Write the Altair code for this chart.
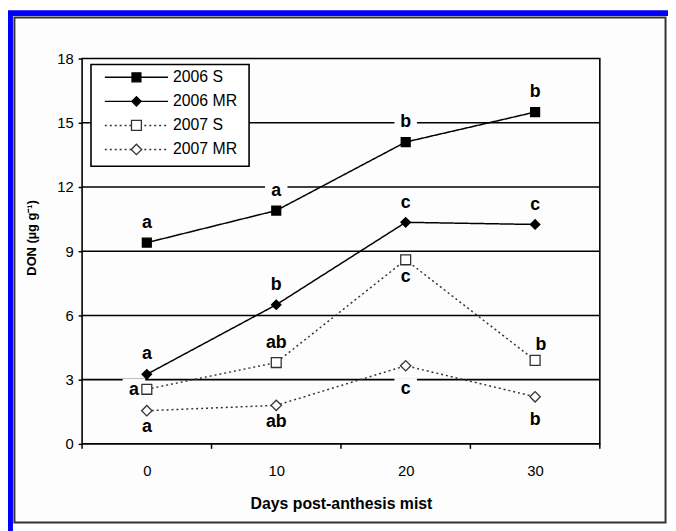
import altair as alt
import pandas as pd

# ---- data ----
days = [0, 10, 20, 30]
series_names = ["2006 S", "2006 MR", "2007 S", "2007 MR"]
don_2006_s = [9.4, 10.9, 14.1, 15.5]
don_2006_mr = [3.25, 6.5, 10.35, 10.25]
don_2007_s = [2.55, 3.8, 8.6, 3.9]
don_2007_mr = [1.55, 1.8, 3.65, 2.2]
letters_2006_s = ["a", "a", "b", "b"]
letters_2006_mr = ["a", "b", "c", "c"]
letters_2007_s = ["a", "ab", "c", "b"]
letters_2007_mr = ["a", "ab", "c", "b"]
# where each letter sits relative to its point
place_2006_s = ["above", "above", "above", "above"]
place_2006_mr = ["above", "above", "above", "above"]
place_2007_s = ["left", "above", "below", "above_r"]
place_2007_mr = ["below", "below", "below2", "below2"]
y_ticks = [0, 3, 6, 9, 12, 15, 18]
x_labels = [0, 10, 20, 30]
x_tick_marks = [-5, 5, 15, 25, 35]

rows = []
for name, vals, lets, places in [
    ("2006 S", don_2006_s, letters_2006_s, place_2006_s),
    ("2006 MR", don_2006_mr, letters_2006_mr, place_2006_mr),
    ("2007 S", don_2007_s, letters_2007_s, place_2007_s),
    ("2007 MR", don_2007_mr, letters_2007_mr, place_2007_mr),
]:
    for d, v, l, p in zip(days, vals, lets, places):
        rows.append({"series": name, "day": d, "don": v, "letter": l, "place": p})
df = pd.DataFrame(rows)

W, H = 524, 390
FONT = "Liberation Sans"

xs = alt.Scale(domain=[-5, 35], nice=False, zero=False)
ys = alt.Scale(domain=[0, 18], nice=False, zero=False)

x_axis = alt.Axis(
    values=x_labels, ticks=False, domain=False, grid=False, labelFont=FONT,
    labelFontSize=15, labelColor="black", labelPadding=20,
    title="Days post-anthesis mist", titleFont=FONT, titleFontSize=16,
    titleFontWeight="bold", titleColor="black", titlePadding=17, zindex=2)
y_axis = alt.Axis(
    values=y_ticks, tickSize=4, tickColor="black", tickWidth=1.5, domain=False,
    grid=False, labelFont=FONT, labelFontSize=15, labelColor="black", labelPadding=5,
    title="DON (µg g⁻¹)", titleFont=FONT, titleFontSize=13, titleFontWeight="bold",
    titleColor="black", titlePadding=18, titleY=181, zindex=2)

dash_scale = alt.Scale(domain=series_names, range=[[1, 0], [1, 0], [2, 3], [2, 3]])
shape_scale = alt.Scale(domain=series_names, range=["square", "diamond", "square", "diamond"])
fill_scale = alt.Scale(domain=series_names, range=["black", "black", "white", "white"])
stroke_scale = alt.Scale(domain=series_names, range=["black", "black", "#333333", "#333333"])
size_scale = alt.Scale(domain=series_names, range=[81, 110, 64, 100])

one = pd.DataFrame({"k": [0]})

# page frame: blue band + dark frame
blue = alt.Chart(one).mark_rect(color="#0000ff").encode(
    x=alt.value(-76), x2=alt.value(W + 80), y=alt.value(-49), y2=alt.value(H + 100))
white = alt.Chart(one).mark_rect(color="white").encode(
    x=alt.value(-70), x2=alt.value(W + 80), y=alt.value(-43), y2=alt.value(H + 100))
frame = alt.Chart(one).mark_rect(fill="#fdfdfd", stroke="#333333", strokeWidth=2).encode(
    x=alt.value(-68.5), x2=alt.value(590.5), y=alt.value(-41.5), y2=alt.value(469.5))

offsets = {
    "above": (0, -20),
    "below": (0, 17),
    "below2": (0, 24),
    "left": (-13, 1),
    "above_r": (6, -16),
}

# horizontal grid lines at the y ticks
grid = alt.Chart(pd.DataFrame({"don": y_ticks[1:-1]})).mark_rule(color="black", strokeWidth=1.6).encode(
    y=alt.Y("don:Q", scale=ys, axis=y_axis), x=alt.value(0), x2=alt.value(W))

box_layers = []
text_layers = []
for p, (dx, dy) in offsets.items():
    sub = alt.Chart(df).transform_filter(alt.datum.place == p)
    box_layers.append(
        sub.mark_point(shape="square", filled=True, color="#fdfdfd", opacity=1, size=520,
                       xOffset=dx, yOffset=dy).encode(
            x=alt.X("day:Q", scale=xs, axis=x_axis), y=alt.Y("don:Q", scale=ys, axis=y_axis)))
    text_layers.append(
        sub.mark_text(font=FONT, fontSize=18, fontWeight="bold", color="black",
                      align="center", baseline="middle", dx=dx, dy=dy).encode(
            x=alt.X("day:Q", scale=xs, axis=x_axis), y=alt.Y("don:Q", scale=ys, axis=y_axis),
            text="letter:N"))

lines = alt.Chart(df).mark_line(strokeWidth=1.5).encode(
    x=alt.X("day:Q", scale=xs, axis=x_axis),
    y=alt.Y("don:Q", scale=ys, axis=y_axis),
    detail="series:N",
    strokeDash=alt.StrokeDash("series:N", scale=dash_scale, legend=None),
    color=alt.Color("series:N", scale=stroke_scale, legend=None),
)

points = alt.Chart(df).mark_point(filled=False, opacity=1, strokeWidth=1.3).encode(
    x=alt.X("day:Q", scale=xs, axis=x_axis), y=alt.Y("don:Q", scale=ys, axis=y_axis),
    shape=alt.Shape("series:N", scale=shape_scale, legend=None),
    fill=alt.Fill("series:N", scale=fill_scale, legend=None),
    stroke=alt.Stroke("series:N", scale=stroke_scale, legend=None),
    size=alt.Size("series:N", scale=size_scale, legend=None),
)

# x tick marks between categories
xticks = alt.Chart(pd.DataFrame({"day": x_tick_marks})).mark_rule(color="black", strokeWidth=1.5).encode(
    x=alt.X("day:Q", scale=xs, axis=x_axis), y=alt.value(H), y2=alt.value(H + 5))

# plot border
border = alt.Chart(one).mark_rect(fill=None, stroke="black", strokeWidth=1.6).encode(
    x=alt.value(0), x2=alt.value(W), y=alt.value(0), y2=alt.value(H))

# manual legend
legend_box = alt.Chart(one).mark_rect(fill="white", stroke="black", strokeWidth=1.6).encode(
    x=alt.value(9), x2=alt.value(169), y=alt.value(6), y2=alt.value(109))
leg_df = pd.DataFrame({"series": series_names, "row": [0, 1, 2, 3]})
leg_y = alt.Scale(domain=[0, 3], range=[19, 92])
leg_layers = [
    alt.Chart(leg_df).mark_rule(strokeWidth=1.5).encode(
        y=alt.Y("row:Q", scale=leg_y, axis=None), x=alt.value(23), x2=alt.value(87),
        strokeDash=alt.StrokeDash("series:N", scale=dash_scale, legend=None),
        color=alt.Color("series:N", scale=stroke_scale, legend=None)),
    alt.Chart(leg_df).mark_point(filled=False, opacity=1, strokeWidth=1.3).encode(
        y=alt.Y("row:Q", scale=leg_y, axis=None), x=alt.value(55),
        shape=alt.Shape("series:N", scale=shape_scale, legend=None),
        fill=alt.Fill("series:N", scale=fill_scale, legend=None),
        stroke=alt.Stroke("series:N", scale=stroke_scale, legend=None),
        size=alt.Size("series:N", scale=size_scale, legend=None)),
    alt.Chart(leg_df).mark_text(font=FONT, fontSize=16, align="left", baseline="middle",
                                color="black").encode(
        y=alt.Y("row:Q", scale=leg_y, axis=None), x=alt.value(92), text="series:N"),
]

main = alt.layer(grid, *box_layers, lines, points, *text_layers, xticks, border)
legend = alt.layer(legend_box, *leg_layers)

chart = alt.layer(blue, white, frame, main, legend).resolve_scale(
    y="independent", x="shared"
).properties(
    width=W, height=H,
    padding={"left": 75, "top": 48, "right": 69, "bottom": 85},
    autosize=alt.AutoSizeParams(type="none"),
    background="white",
).configure_view(stroke=None)

chart.save("out.html", embed_options={"renderer": "svg", "actions": False})
